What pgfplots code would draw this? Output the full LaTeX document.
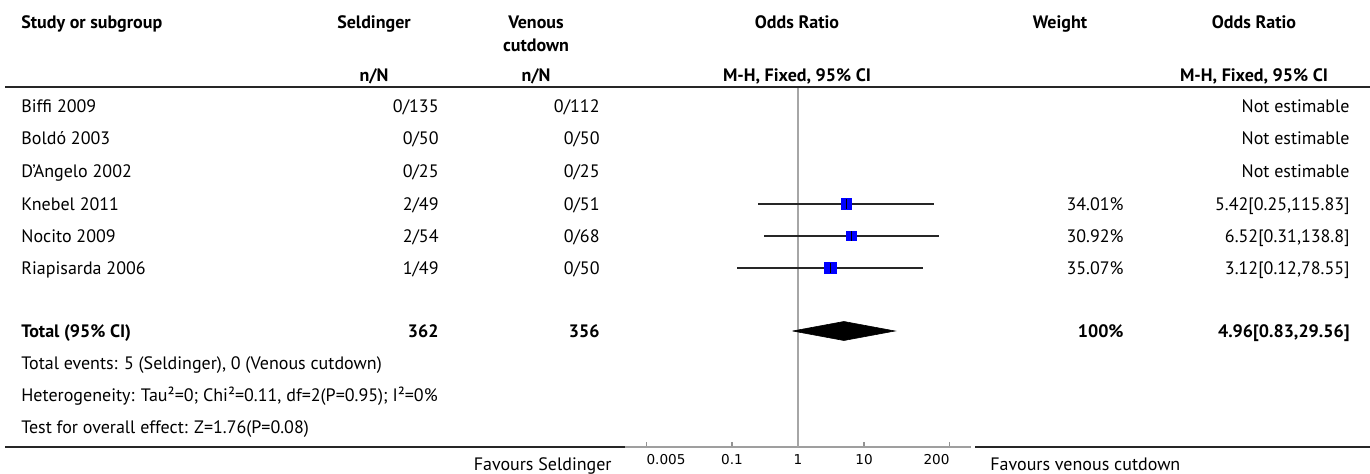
\documentclass[border=0pt]{standalone}
\usepackage{fontspec}
\setmainfont{PT Sans}
\newfontfamily\tickfont{DejaVu Sans}
\usepackage{pgfplots}
\pgfplotsset{compat=1.18}
\begin{document}
\fontsize{9}{11}\selectfont
\begin{tikzpicture}
\useasboundingbox (0pt,0pt) rectangle (685pt,-237pt);
\begin{axis}[
  at={(312.5pt,-223.5pt)}, anchor=south west,
  scale only axis, width=173pt, height=180pt,
  xmode=log, xmin=0.002392, xmax=418,
  ymin=87, ymax=447, y dir=reverse,
  axis x line*=bottom, axis y line=none,
  axis line style={-, gray!75, line width=0.6pt},
  xtick={0.005,0.1,1,10,200}, xticklabels={},
  minor xtick={},
  tick align=inside, major tick length=2.5pt,
  tick style={gray!85, line width=0.6pt},
  clip=false,
]
% line of no effect
\addplot[gray!70, line width=0.75pt] coordinates {(1,87) (1,447)};
% study squares (size ~ weight)
\addplot[only marks, mark=square*, mark size=2.67pt, blue, mark options={fill=blue, draw=none}] coordinates {(5.42,204)};
\addplot[only marks, mark=square*, mark size=2.45pt, blue, mark options={fill=blue, draw=none}] coordinates {(6.52,236)};
\addplot[only marks, mark=square*, mark size=2.9pt, blue, mark options={fill=blue, draw=none}] coordinates {(3.12,268)};
% confidence intervals
\addplot[black!85, line width=0.75pt] coordinates {(0.25,204) (115.83,204)};
\addplot[black!85, line width=0.75pt] coordinates {(0.31,236) (138.8,236)};
\addplot[black!85, line width=0.75pt] coordinates {(0.12,268) (78.55,268)};
\addplot[only marks, mark=|, mark size=2.4pt, black, mark options={line width=0.6pt}] coordinates {(5.42,204) (6.52,236) (3.12,268)};
% pooled diamond
\addplot[fill=black, draw=black, line width=0.3pt] coordinates {(0.83,331) (4.96,321.5) (29.56,331) (4.96,340.5) (0.83,331)};
% tick labels
\begin{scope}[every node/.style={inner sep=0pt, font=\tickfont\fontsize{6.8}{8}\selectfont}]
\node[anchor=north west] at (axis cs:0.005,454) {0.005};
\node[anchor=north] at (axis cs:0.1,454) {0.1};
\node[anchor=north] at (axis cs:1,454) {1};
\node[anchor=north] at (axis cs:10,454) {10};
\node[anchor=north east] at (axis cs:200,454) {200};
\end{scope}
\end{axis}
\begin{scope}[x=0.5pt,y=-0.5pt,every node/.style={inner sep=0pt}]
% table rules
\draw[line width=1pt, black!85] (5,87) -- (1370,87);
\draw[line width=1pt, black!85] (5,447) -- (625,447);
\draw[line width=1pt, black!85] (975,447) -- (1370,447);
% header
\node[anchor=base west] at (21,29) {\bfseries Study or subgroup};
\node[anchor=base] at (374,29) {\bfseries Seldinger};
\node[anchor=base] at (536,29) {\bfseries Venous};
\node[anchor=base] at (536,52) {\bfseries cutdown};
\node[anchor=base] at (797,29) {\bfseries Odds Ratio};
\node[anchor=base] at (1060,29) {\bfseries Weight};
\node[anchor=base] at (1254,29) {\bfseries Odds Ratio};
\node[anchor=base] at (374,82) {\bfseries n/N};
\node[anchor=base] at (536,82) {\bfseries n/N};
\node[anchor=base] at (797,82) {\bfseries M-H, Fixed, 95\% CI};
\node[anchor=base] at (1254,82) {\bfseries M-H, Fixed, 95\% CI};
% studies
\node[anchor=base west] at (21,113) {Biffi 2009};
\node[anchor=base east] at (439,113) {0/135};
\node[anchor=base east] at (600,113) {0/112};
\node[anchor=base east] at (1350,113) {Not estimable};
\node[anchor=base west] at (21,145) {Boldó 2003};
\node[anchor=base east] at (439,145) {0/50};
\node[anchor=base east] at (600,145) {0/50};
\node[anchor=base east] at (1350,145) {Not estimable};
\node[anchor=base west] at (21,178) {D'Angelo 2002};
\node[anchor=base east] at (439,178) {0/25};
\node[anchor=base east] at (600,178) {0/25};
\node[anchor=base east] at (1350,178) {Not estimable};
\node[anchor=base west] at (21,211) {Knebel 2011};
\node[anchor=base east] at (439,211) {2/49};
\node[anchor=base east] at (600,211) {0/51};
\node[anchor=base east] at (1124,211) {34.01\%};
\node[anchor=base east] at (1350,211) {5.42[0.25,115.83]};
\node[anchor=base west] at (21,243) {Nocito 2009};
\node[anchor=base east] at (439,243) {2/54};
\node[anchor=base east] at (600,243) {0/68};
\node[anchor=base east] at (1124,243) {30.92\%};
\node[anchor=base east] at (1350,243) {6.52[0.31,138.8]};
\node[anchor=base west] at (21,275) {Riapisarda 2006};
\node[anchor=base east] at (439,275) {1/49};
\node[anchor=base east] at (600,275) {0/50};
\node[anchor=base east] at (1124,275) {35.07\%};
\node[anchor=base east] at (1350,275) {3.12[0.12,78.55]};
% total
\node[anchor=base west] at (21,338) {\bfseries Total (95\% CI)};
\node[anchor=base east] at (439,338) {\bfseries 362};
\node[anchor=base east] at (600,338) {\bfseries 356};
\node[anchor=base east] at (1124,338) {\bfseries 100\%};
\node[anchor=base east] at (1350,338) {\bfseries 4.96[0.83,29.56]};
\node[anchor=base west] at (21,370) {Total events: 5 (Seldinger), 0 (Venous cutdown)};
\node[anchor=base west] at (21,402) {Heterogeneity: Tau²=0; Chi²=0.11, df=2(P=0.95); I²=0\%};
\node[anchor=base west] at (21,434) {Test for overall effect: Z=1.76(P=0.08)};
% favours
\node[anchor=base east] at (612,471) {Favours Seldinger};
\node[anchor=base west] at (990,471) {Favours venous cutdown};
\end{scope}
\end{tikzpicture}
\end{document}
